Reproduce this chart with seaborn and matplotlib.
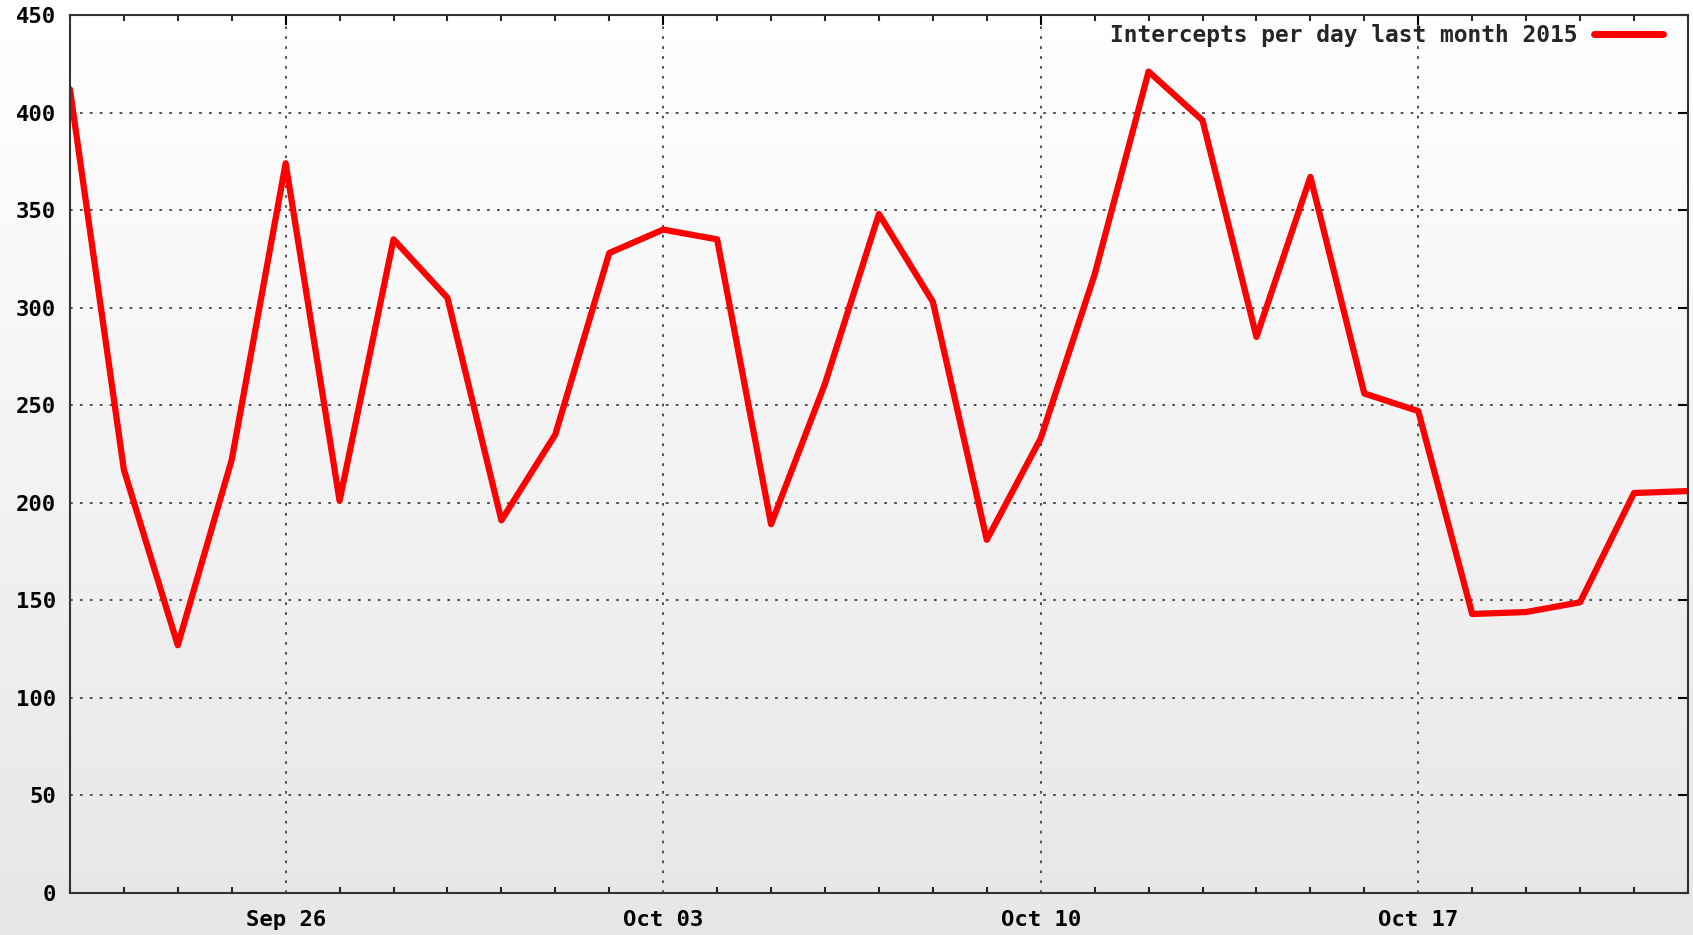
import numpy as np
import pandas as pd
import matplotlib
matplotlib.use("Agg")
import matplotlib.pyplot as plt
import matplotlib.dates as mdates
import seaborn as sns

# --- datos ---
dates = pd.date_range("2015-09-22", "2015-10-22", freq="D")
intercepts = [412, 217, 127, 222, 374, 201, 335, 305, 191, 235,
              328, 340, 335, 189, 261, 348, 303, 181, 233, 317,
              421, 396, 285, 367, 256, 247, 143, 144, 149, 205, 206]
label = "Intercepts per day last month 2015"
yticks = list(range(0, 451, 50))

df = pd.DataFrame({"date": dates, "count": intercepts})

sns.set_style("white")
plt.rcParams["font.family"] = ["DejaVu Sans Mono"]
plt.rcParams["font.weight"] = "bold"

fig = plt.figure(figsize=(16.93, 9.35), dpi=100)

# fondo degradado
bg = fig.add_axes([0, 0, 1, 1], zorder=-10)
grad = np.linspace(1.0, 0.90, 256).reshape(-1, 1)
bg.imshow(grad, aspect="auto", cmap="gray", vmin=0, vmax=1, extent=[0, 1, 0, 1])
bg.axis("off")

ax = fig.add_axes([0.0413, 0.0449, 0.9557, 0.9391])
ax.patch.set_alpha(0)

sns.lineplot(data=df, x="date", y="count", ax=ax, color="#ff0000",
             linewidth=4.5, label=label)

ax.set_xlim(dates[0], dates[-1])
ax.set_ylim(0, 450)
ax.set_yticks(yticks)
ax.xaxis.set_major_locator(mdates.DayLocator(bymonthday=[26, 3, 10, 17]))
ax.xaxis.set_major_formatter(mdates.DateFormatter("%b %d"))
ax.xaxis.set_minor_locator(mdates.DayLocator())
ax.set_xlabel("")
ax.set_ylabel("")

ax.grid(True, which="major", color="#444444", linestyle=(0, (1.5, 4)), linewidth=1.3)
ax.tick_params(axis="both", which="major", direction="in", length=7, width=1.5,
               labelsize=16, colors="#000000", top=True, right=True, pad=10)
ax.tick_params(axis="x", which="major", pad=12)
ax.tick_params(axis="x", which="minor", direction="in", length=4, width=1.5,
               top=True, bottom=True)
for s in ax.spines.values():
    s.set_color("#333333")
    s.set_linewidth(1.5)
for t in ax.get_xticklabels() + ax.get_yticklabels():
    t.set_fontweight("bold")

leg = ax.legend(loc="upper right", bbox_to_anchor=(0.99, 1.0), frameon=False,
                fontsize=16.5, handlelength=3.0, handletextpad=0.7,
                markerfirst=False, borderaxespad=0)
for t in leg.get_texts():
    t.set_fontweight("bold")
for h in leg.get_lines():
    h.set_linewidth(5)

fig.savefig("out.png", dpi=100)
